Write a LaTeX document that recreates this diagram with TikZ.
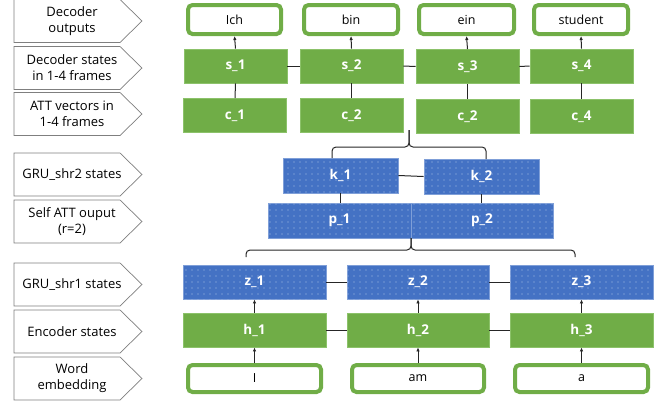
\documentclass[tikz,border=0pt]{standalone}
\usepackage{fontspec}
\setmainfont{Open Sans}
\usetikzlibrary{arrows.meta,patterns.meta}
\definecolor{gfill}{HTML}{70AD47}
\definecolor{gline}{HTML}{8CC26A}
\definecolor{bfill}{HTML}{4472C4}
\definecolor{bline}{HTML}{7F9FD8}
\definecolor{lline}{HTML}{7F7F7F}
\definecolor{connc}{HTML}{262626}
\begin{document}
\begin{tikzpicture}[x=1pt,y=-1pt,
  gbox/.style={draw=gline, line width=0.8pt, fill=gfill, text=white,
    font=\bfseries\fontsize{13.5}{15}\selectfont, minimum width=102pt,
    minimum height=34pt, inner sep=0pt},
  bbox/.style={draw=bline, line width=0.8pt, fill=bfill,
    postaction={pattern={Dots[distance=6pt,radius=0.55pt]}, pattern color=white!55!bfill},
    text=white, font=\bfseries\fontsize{13.5}{15}\selectfont,
    minimum height=34pt, inner sep=0pt},
  wbox/.style={draw=gfill, line width=4pt, rounded corners=4.5pt, fill=white,
    font=\fontsize{12.5}{14}\selectfont, inner sep=0pt},
  lab/.style={align=center, font=\fontsize{13}{16}\selectfont, inner sep=0pt},
  labshape/.style={draw=lline, line width=0.7pt, fill=white},
  conn/.style={draw=connc, line width=1pt},
  arr/.style={conn, -{Latex[length=4pt,width=3.5pt]}},
  brace/.style={conn, rounded corners=4pt}
]
\useasboundingbox (0,0) rectangle (663,402);

% left labels
\foreach \cy/\nm/\txt in {21/lab1/{Decoder\\outputs}, 68/lab2/{Decoder states\\in 1-4 frames},
  114/lab3/{ATT vectors in\\1-4 frames}, 174.5/lab4/{GRU\_shr2 states},
  221.5/lab5/{Self ATT ouput\\(r=2)}, 284.5/lab6/{GRU\_shr1 states},
  331.5/lab7/{Encoder states}, 378.5/lab8/{Word\\embedding}}{
  \draw[labshape] (14,\cy-21.5) -- (120,\cy-21.5) -- (142,\cy) -- (120,\cy+21.5) -- (14,\cy+21.5) -- cycle;
  \node[lab] (\nm) at (72,\cy) {\txt};
}

% decoder outputs
\node[wbox, minimum width=93pt, minimum height=29pt] (o1) at (234.5,19.5) {Ich};
\node[wbox, minimum width=94pt, minimum height=29pt] (o2) at (351,19.5) {bin};
\node[wbox, minimum width=95pt, minimum height=29pt] (o3) at (466.5,19.5) {ein};
\node[wbox, minimum width=94pt, minimum height=29pt] (o4) at (581,19.5) {student};

% decoder states
\node[gbox, minimum width=103pt] (s1) at (235.5,66) {s\_1};
\node[gbox, minimum width=103pt] (s2) at (351.5,66) {s\_2};
\node[gbox, minimum width=103pt] (s3) at (467.5,66.5) {s\_3};
\node[gbox, minimum width=103pt] (s4) at (581.5,66) {s\_4};

% ATT vectors
\node[gbox, minimum width=103pt] (c1) at (235,115.5) {c\_1};
\node[gbox, minimum width=103pt] (c2) at (351.5,115.5) {c\_2};
\node[gbox, minimum width=103pt] (c3) at (467.5,116.5) {c\_2};
\node[gbox, minimum width=103pt] (c4) at (581.5,116.5) {c\_4};

% GRU_shr2
\node[bbox, minimum width=115pt, minimum height=35pt] (k1) at (340.5,175.5) {k\_1};
\node[bbox, minimum width=115pt, minimum height=35pt] (k2) at (481.5,176.5) {k\_2};

% self att
\node[bbox, minimum width=143pt, minimum height=35pt] (p1) at (339.5,220.5) {p\_1};
\node[bbox, minimum width=142pt, minimum height=35pt] (p2) at (482,220.5) {p\_2};

% GRU_shr1
\node[bbox, minimum width=143pt] (z1) at (254.5,282) {z\_1};
\node[bbox, minimum width=142pt] (z2) at (418,282) {z\_2};
\node[bbox, minimum width=143pt] (z3) at (581.5,282) {z\_3};

% encoder
\node[gbox, minimum width=143pt] (h1) at (254.5,330) {h\_1};
\node[gbox, minimum width=142pt] (h2) at (418,330) {h\_2};
\node[gbox, minimum width=143pt] (h3) at (581.5,330) {h\_3};

% words
\node[wbox, minimum width=133pt, minimum height=27pt] (w1) at (254.5,378.5) {I};
\node[wbox, minimum width=132pt, minimum height=27pt] (w2) at (418,378.5) {am};
\node[wbox, minimum width=133pt, minimum height=27pt] (w3) at (581.5,378.5) {a};

% decoder connectors
\foreach \i in {1,2,3,4}{
  \draw[arr] (s\i.north) -- (o\i.south);
  \draw[conn] (c\i.north) -- (s\i.south);
}
\draw[conn] (s1.east) -- (s2.west);
\draw[conn] (s2.east) -- (s3.west);
\draw[conn] (s3.east) -- (s4.west);

% upper brace
\coordinate (ub) at (409,130);
\coordinate (ubm) at (409,147);
\coordinate (ubl) at (332,158);
\coordinate (ubr) at (486,159);
\draw[brace] (ubl) |- (ubm) -- (ub);
\draw[brace] (ubr) |- (ubm) -- (ub);

% k, p connectors
\draw[conn] (k1.east) -- (k2.west);
\draw[conn] (k1.south) -- (k1.south |- p1.north);
\draw[conn] (k2.south) -- (k2.south |- p2.north);

% lower brace
\coordinate (lb) at (411,238);
\coordinate (lbm) at (411,250);
\coordinate (lbl) at (246,257);
\coordinate (lbr) at (575,257);
\draw[brace] (lbl) |- (lbm) -- (lb);
\draw[brace] (lbr) |- (lbm) -- (lb);

% encoder connectors
\draw[conn] (z1.east) -- (z2.west);
\draw[conn] (z2.east) -- (z3.west);
\draw[conn] (h1.east) -- (h2.west);
\draw[conn] (h2.east) -- (h3.west);
\foreach \i in {1,2,3}{
  \draw[arr] (h\i.north) -- (z\i.south);
  \draw[arr] (w\i.north) -- (h\i.south);
}
\end{tikzpicture}
\end{document}
